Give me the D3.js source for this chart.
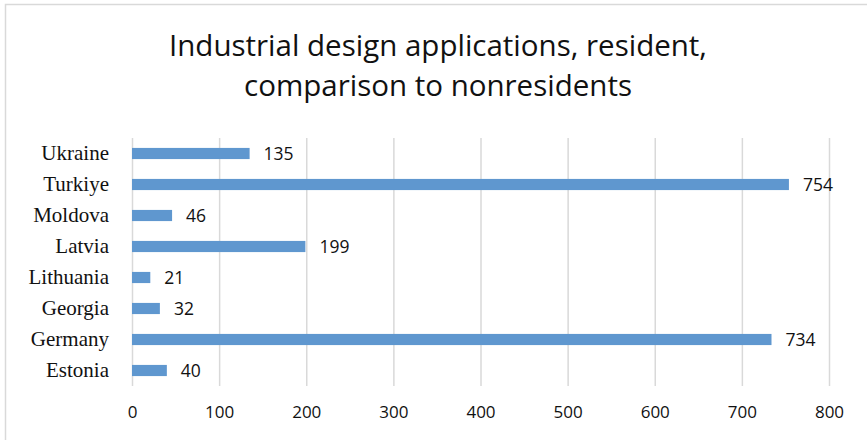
<!DOCTYPE html>
<html>
<head>
<meta charset="utf-8">
<script src="https://cdn.jsdelivr.net/npm/d3@7"></script>
<style>
  html, body { margin: 0; padding: 0; background: #fff; }
  svg { display: block; }
</style>
</head>
<body>
<svg id="chart" width="867" height="440"></svg>
<script>
// Industrial design applications by residents, per country
const categories = ["Ukraine", "Turkiye", "Moldova", "Latvia", "Lithuania", "Georgia", "Germany", "Estonia"];
const values = [135, 754, 46, 199, 21, 32, 734, 40];
const xTicks = [0, 100, 200, 300, 400, 500, 600, 700, 800];
const titleLines = ["Industrial design applications, resident,", "comparison to nonresidents"];

const svg = d3.select("#chart");
const W = 867, H = 440;
const plot = { left: 132, right: 829, top: 138, bottom: 386 };
const sans = "'Open Sans', Lato, sans-serif";

// chart frame
svg.append("rect")
  .attr("x", 5.5).attr("y", 4.5)
  .attr("width", W).attr("height", H)
  .attr("fill", "#fff")
  .attr("stroke", "#d9d9d9").attr("stroke-width", 1.5);

const x = d3.scaleLinear().domain([0, 800]).range([plot.left, plot.right]);
const y = d3.scaleBand().domain(categories).range([plot.top, plot.bottom]).paddingInner(0.64).paddingOuter(0.32);

// vertical gridlines
const grid = d3.axisBottom(x).tickValues(xTicks).tickSize(-(plot.bottom - plot.top)).tickFormat("");
svg.append("g")
  .attr("transform", `translate(0,${plot.bottom})`)
  .call(grid)
  .call(g => g.select(".domain").remove())
  .call(g => g.selectAll("line").attr("stroke", "#d9d9d9").attr("stroke-width", 1.5));

// x tick labels
const xAxis = d3.axisBottom(x).tickValues(xTicks).tickSize(0).tickPadding(0).tickFormat(d3.format("d"));
svg.append("g")
  .attr("transform", `translate(0,${plot.bottom + 32})`)
  .call(xAxis)
  .call(g => g.select(".domain").remove())
  .call(g => g.selectAll("text")
    .attr("dy", "0")
    .attr("font-family", sans)
    .attr("font-size", 17)
    .attr("fill", "#111"));

// category labels
const yAxis = d3.axisLeft(y).tickSize(0).tickPadding(0);
svg.append("g")
  .attr("transform", `translate(${plot.left - 23},0)`)
  .call(yAxis)
  .call(g => g.select(".domain").remove())
  .call(g => g.selectAll("text")
    .attr("font-family", "'Liberation Serif', 'Times New Roman', serif")
    .attr("font-size", 21)
    .attr("fill", "#111"));

// bars
svg.append("g").selectAll("rect")
  .data(categories)
  .join("rect")
  .attr("x", x(0))
  .attr("y", d => y(d))
  .attr("width", (d, i) => x(values[i]) - x(0))
  .attr("height", y.bandwidth())
  .attr("fill", "#5f97cf");

// value labels
svg.append("g").selectAll("text")
  .data(categories)
  .join("text")
  .attr("x", (d, i) => x(values[i]) + 14)
  .attr("y", d => y(d) + y.bandwidth() / 2)
  .attr("dy", "0.36em")
  .attr("font-family", sans)
  .attr("font-size", 17.5)
  .attr("fill", "#111")
  .text((d, i) => values[i]);

// title
svg.append("text")
  .attr("text-anchor", "middle")
  .attr("font-family", sans)
  .attr("font-size", 29.5)
  .attr("fill", "#111")
  .selectAll("tspan")
  .data(titleLines)
  .join("tspan")
  .attr("x", 438)
  .attr("y", (d, i) => 56 + i * 40)
  .text(d => d);
</script>
</body>
</html>
